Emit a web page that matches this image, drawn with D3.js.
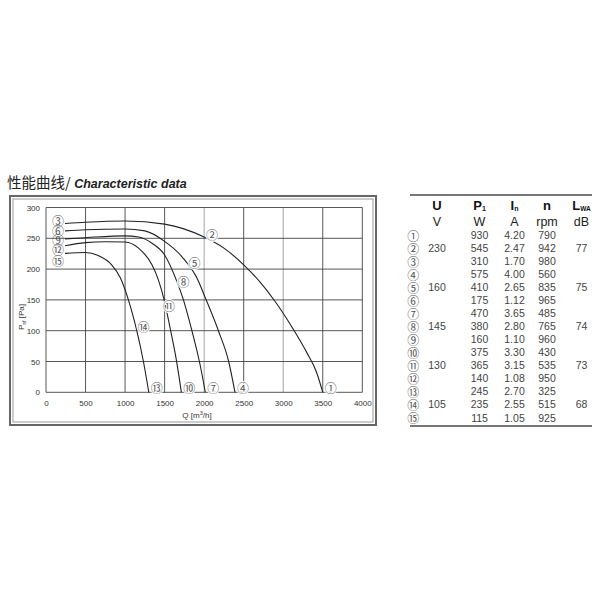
<!DOCTYPE html>
<html><head><meta charset="utf-8">
<script src="https://cdn.jsdelivr.net/npm/d3@7"></script>
<style>body{margin:0;background:#fff}</style>
</head><body>
<script>
// ---- data ----
const qTicks = [0,500,1000,1500,2000,2500,3000,3500,4000];
const pTicks = [0,50,100,150,200,250,300];

const q230 = [240,500,1000,1500,2000,2250,2500,2700,2900,3100,3300,3420,3500];
const p230 = [274,276,278,273,252,234,207,180,147,108,64,33,0];
const q160 = [240,500,1000,1250,1500,1720,1930,2000,2180,2310,2390];
const p160 = [262,264,265,262,245,220,180,158,100,50,0];
const q145 = [240,500,1000,1170,1340,1500,1655,1738,1845,1940,2015];
const p145 = [249,251,254,252,242,223,180,150,100,50,0];
const q130 = [240,500,750,1000,1170,1340,1420,1490,1570,1645,1712];
const p130 = [238,243,244.5,244,234,207,183,152,104,55,0];
const q105 = [240,500,660,830,940,1030,1148,1232,1300];
const p105 = [225.6,227,222,207,186,155,100,50,0];

const startLabels = ["③","⑥","⑨","⑫","⑮"];
const startLabelP = [278.6,263.0,248.4,232.6,214.7];
const midLabels = ["②","⑤","⑧","⑪","⑭"];
const midLabelQ = [2098,1877,1738,1557,1232];
const midLabelP = [255.5,210.4,179.5,141.2,107.6];
const endLabels = ["①","④","⑦","⑩","⑬"];

const rowIds = ["①","②","③","④","⑤","⑥","⑦","⑧","⑨","⑩","⑪","⑫","⑬","⑭","⑮"];
const colU = ["","230","","","160","","","145","","","130","","","105",""];
const colP1 = ["930","545","310","575","410","175","470","380","160","375","365","140","245","235","115"];
const colIn = ["4.20","2.47","1.70","4.00","2.65","1.12","3.65","2.80","1.10","3.30","3.15","1.08","2.70","2.55","1.05"];
const colN = ["790","942","980","560","835","965","485","765","960","430","535","950","325","515","925"];
const colL = ["","77","","","75","","","74","","","73","","","68",""];
const units = ["V","W","A","rpm","dB"];

// ---- drawing ----
const svg = d3.select("body").append("svg").attr("width",600).attr("height",600)
  .style("font-family","'Liberation Sans', Arial, sans-serif");

const x = d3.scaleLinear().domain([0,4000]).range([46,362.3]);
const y = d3.scaleLinear().domain([0,300]).range([392.3,207.5]);
const circFont = "'Noto Sans CJK SC'";

// title
const title = svg.append("text").attr("x",7).attr("y",188).attr("fill","#222");
title.append("tspan").text("性能曲线/").attr("font-family","'Noto Sans CJK SC'").attr("font-size",14.5);
title.append("tspan").text(" Characteristic data").attr("font-weight","bold").attr("font-style","italic").attr("font-size",12.5);

// frame
svg.append("rect").attr("x",10).attr("y",196).attr("width",366).attr("height",229)
  .attr("fill","none").attr("stroke","#666").attr("stroke-width",2);
svg.append("rect").attr("x",13).attr("y",199).attr("width",360).attr("height",223)
  .attr("fill","none").attr("stroke","#999").attr("stroke-width",1);

// grid
const g = svg.append("g");
g.selectAll(".vg").data(qTicks).join("line")
  .attr("x1",d=>x(d)).attr("x2",d=>x(d)).attr("y1",y(0)).attr("y2",y(300))
  .attr("stroke",d=> (d===2000||d===3000)?"#999":"#444").attr("stroke-width",0.9);
g.selectAll(".hg").data(pTicks).join("line")
  .attr("y1",d=>y(d)).attr("y2",d=>y(d)).attr("x1",x(0)).attr("x2",x(4000))
  .attr("stroke","#444").attr("stroke-width",0.9);

// axes (labels only)
const xAxis = svg.append("g").attr("transform",`translate(0,${y(0)})`)
  .call(d3.axisBottom(x).tickValues(qTicks).tickSize(0).tickPadding(8).tickFormat(d3.format("d")));
xAxis.select(".domain").remove();
xAxis.selectAll("text").attr("font-size",8).attr("fill","#333").attr("font-family","'Liberation Sans', Arial, sans-serif");
const yAxis = svg.append("g").attr("transform",`translate(${x(0)},0)`)
  .call(d3.axisLeft(y).tickValues(pTicks).tickSize(0).tickPadding(6));
yAxis.select(".domain").remove();
yAxis.selectAll("text").attr("font-size",8).attr("fill","#333").attr("font-family","'Liberation Sans', Arial, sans-serif");

// axis titles
const xt = svg.append("text").attr("x",197).attr("y",418).attr("text-anchor","middle")
  .attr("font-size",8).attr("fill","#333");
xt.append("tspan").text("Q [m");
xt.append("tspan").text("3").attr("font-size",5.5).attr("dy",-3);
xt.append("tspan").text("/h]").attr("dy",3);
const yt = svg.append("text").attr("transform","translate(24,317) rotate(-90)")
  .attr("text-anchor","middle").attr("font-size",8).attr("fill","#333");
yt.append("tspan").text("P");
yt.append("tspan").text("sf").attr("font-size",5.5).attr("dy",2);
yt.append("tspan").text(" [Pa]").attr("dy",-2);

// curves
const curves = [[q230,p230],[q160,p160],[q145,p145],[q130,p130],[q105,p105]];
const line = d3.line().x(d=>x(d[0])).y(d=>y(d[1])).curve(d3.curveMonotoneX);
function circLabel(sel, cx, cy, txt, halo){
  const t = sel.append("text").attr("x",cx).attr("y",cy)
    .attr("text-anchor","middle").attr("dominant-baseline","central")
    .attr("font-family",circFont).attr("font-size",12).attr("fill","#555").text(txt);
  if (halo) t.attr("stroke","#fff").attr("stroke-width",2).attr("paint-order","stroke");
  return t;
}
curves.forEach(([qs,ps],i)=>{
  const pts = qs.map((q,j)=>[q,ps[j]]);
  svg.append("path").datum(pts).attr("d",line).attr("fill","none")
    .attr("stroke","#222").attr("stroke-width",1.1);
  circLabel(svg, x(qs[0])-7, y(startLabelP[i]), startLabels[i], false);
  circLabel(svg, x(midLabelQ[i]), y(midLabelP[i]), midLabels[i], true);
  circLabel(svg, x(qs[qs.length-1])+8, y(0)-5, endLabels[i], true);
});

// ---- table ----
const colX = [413.3,437,479.5,514.5,547,581.5];
svg.append("line").attr("x1",410).attr("x2",592).attr("y1",195).attr("y2",195).attr("stroke","#777").attr("stroke-width",2);
svg.append("line").attr("x1",410).attr("x2",592).attr("y1",426).attr("y2",426).attr("stroke","#777").attr("stroke-width",2);

const hdr = svg.append("g").attr("font-weight","bold").attr("font-size",13).attr("fill","#111").attr("text-anchor","middle");
hdr.append("text").attr("x",colX[1]).attr("y",210).text("U");
let t = hdr.append("text").attr("x",colX[2]).attr("y",210);
t.append("tspan").text("P"); t.append("tspan").text("1").attr("font-size",7).attr("dy",1);
t = hdr.append("text").attr("x",colX[3]).attr("y",210);
t.append("tspan").text("I"); t.append("tspan").text("n").attr("font-size",7).attr("dy",1);
hdr.append("text").attr("x",colX[4]).attr("y",210).text("n");
t = hdr.append("text").attr("x",colX[5]).attr("y",210);
t.append("tspan").text("L"); t.append("tspan").text("WA").attr("font-size",6.5).attr("dy",1);

svg.append("g").selectAll("text").data(units).join("text")
  .attr("x",(d,i)=>colX[i+1]).attr("y",226).attr("text-anchor","middle")
  .attr("font-size",12.5).attr("fill","#222").text(d=>d);

const rowY = i => 235 + i*13.05;
const cols = [colU,colP1,colIn,colN,colL];
const ids = svg.append("g");
rowIds.forEach((d,i)=> circLabel(ids, colX[0], rowY(i), d, false));
cols.forEach((col,c)=>{
  svg.append("g").selectAll("text").data(col).join("text")
    .attr("x",colX[c+1]).attr("y",(d,i)=>rowY(i)+3.8).attr("text-anchor","middle")
    .attr("font-size",10.5).attr("fill","#444").text(d=>d);
});
</script>
</body></html>
